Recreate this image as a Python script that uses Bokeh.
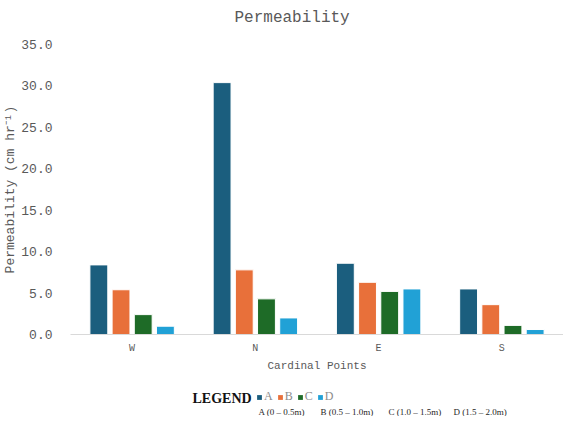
from bokeh.plotting import figure
from bokeh.layouts import column
from bokeh.models import (FactorRange, Range1d, FixedTicker, NumeralTickFormatter, Legend,
                          LegendItem, Label)
from bokeh.transform import dodge
from bokeh.embed import file_html
from bokeh.resources import INLINE

chart_title = "Permeability"
categories = ["W", "N", "E", "S"]
series = ["A", "B", "C", "D"]
a_vals = [8.4, 30.4, 8.6, 5.5]
b_vals = [5.4, 7.8, 6.3, 3.6]
c_vals = [2.4, 4.3, 5.2, 1.1]
d_vals = [1.0, 2.0, 5.5, 0.6]
y_ticks = [0, 5, 10, 15, 20, 25, 30, 35]
depth_notes = ["A (0 \u2013 0.5m)", "B (0.5 \u2013 1.0m)", "C (1.0 \u2013 1.5m)", "D (1.5 \u2013 2.0m)"]

colors = ["#1B5E7E", "#E8703A", "#1E6B27", "#21A1D6"]
offsets = [-0.27, -0.09, 0.09, 0.27]
note_x = [188, 250, 318, 383]
MONO = "Liberation Mono"
SERIF = "Liberation Serif"
GRAY = "#595959"
W = 563
NAN = float("nan")

data = {"cat": categories, "A": a_vals, "B": b_vals, "C": c_vals, "D": d_vals}


def strip(height):
    f = figure(width=W, height=height, x_range=Range1d(0, 1), y_range=Range1d(0, 1),
               output_backend="svg", toolbar_location=None, x_axis_type=None, y_axis_type=None,
               min_border_left=62, min_border_right=0, min_border_top=0, min_border_bottom=0)
    f.outline_line_color = None
    f.xgrid.grid_line_color = None
    f.ygrid.grid_line_color = None
    return f


# ---------------- title strip ----------------
p0 = strip(36)
p0.add_layout(Label(x=164, y=19, x_units="screen", y_units="screen", text=chart_title,
                    text_font=MONO, text_font_size="16px", text_color=GRAY,
                    text_baseline="middle"))

# ---------------- main chart ----------------
p = figure(x_range=FactorRange(*categories), y_range=Range1d(0, 35),
           width=W, height=340, output_backend="svg", toolbar_location=None,
           min_border_left=62, min_border_right=0, min_border_top=8, min_border_bottom=42)

for s, col, off in zip(series, colors, offsets):
    p.vbar(x=dodge("cat", off, range=p.x_range), top=s, width=0.145, source=data,
           fill_color=col, line_color="white", line_width=1)

p.outline_line_color = None
p.xgrid.grid_line_color = None
p.ygrid.grid_line_color = None

p.yaxis.ticker = FixedTicker(ticks=y_ticks)
p.yaxis.formatter = NumeralTickFormatter(format="0.0")
p.yaxis.axis_line_color = None
p.yaxis.major_tick_line_color = None
p.yaxis.minor_tick_line_color = None
p.yaxis.major_label_text_font = MONO
p.yaxis.major_label_text_font_size = "13px"
p.yaxis.major_label_text_color = GRAY
p.yaxis.major_label_standoff = 12
p.yaxis.axis_label = "Permeability (cm hr\u207b\u00b9)"
p.yaxis.axis_label_text_font = MONO
p.yaxis.axis_label_text_font_size = "13px"
p.yaxis.axis_label_text_font_style = "normal"
p.yaxis.axis_label_text_color = GRAY
p.yaxis.axis_label_standoff = 0

p.xaxis.axis_line_color = "#D9D9D9"
p.xaxis.major_tick_line_color = None
p.xaxis.minor_tick_line_color = None
p.xaxis.major_label_text_font = MONO
p.xaxis.major_label_text_font_size = "10px"
p.xaxis.major_label_text_color = GRAY
p.xaxis.major_label_standoff = 2
p.xaxis.axis_label = "Cardinal Points"
p.xaxis.axis_label_text_font = MONO
p.xaxis.axis_label_text_font_size = "11px"
p.xaxis.axis_label_text_font_style = "normal"
p.xaxis.axis_label_text_color = GRAY
p.xaxis.axis_label_standoff = 3

# ---------------- legend strip ----------------
p2 = strip(40)
proxies = []
for col in colors:
    proxies.append(p2.vbar(x=[NAN], top=[NAN], width=1, fill_color=col, line_color=None))

legend = Legend(items=[LegendItem(label=s, renderers=[r]) for s, r in zip(series, proxies)],
                orientation="horizontal", location=(186, 12))
legend.label_text_font = SERIF
legend.label_text_font_size = "12px"
legend.label_text_color = "#8C8C8C"
legend.glyph_width = 6
legend.glyph_height = 6
legend.label_standoff = 2
legend.label_width = 8
legend.label_height = 12
legend.spacing = 4
legend.padding = 0
legend.margin = 0
legend.border_line_color = None
legend.background_fill_alpha = 0
p2.add_layout(legend)

p2.add_layout(Label(x=122, y=18, x_units="screen", y_units="screen", text="LEGEND",
                    text_font=SERIF, text_font_style="bold", text_font_size="14px",
                    text_color="#111111", text_baseline="middle"))
for nx, note in zip(note_x, depth_notes):
    p2.add_layout(Label(x=nx, y=5, x_units="screen", y_units="screen", text=note,
                        text_font=SERIF, text_font_size="9px", text_color="#262626",
                        text_baseline="middle"))

layout = column(p0, p, p2, spacing=0)
open("out.html", "w").write(file_html(layout, INLINE))
